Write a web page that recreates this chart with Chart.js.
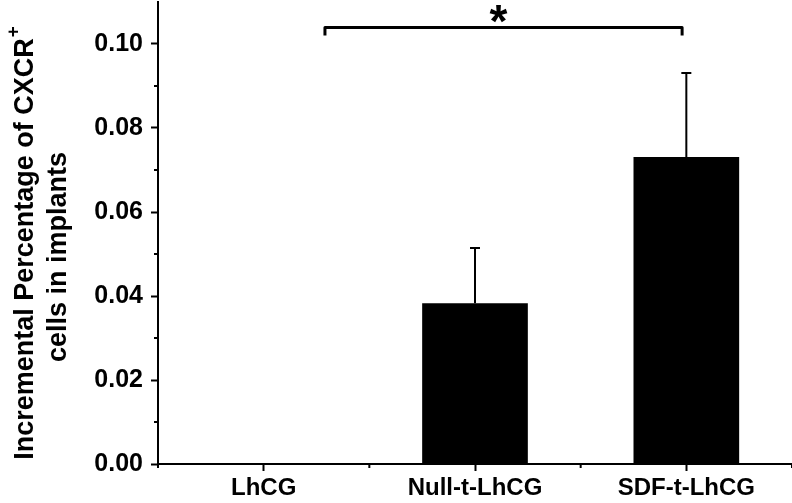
<!DOCTYPE html>
<html>
<head>
<meta charset="utf-8">
<script src="https://cdn.jsdelivr.net/npm/chart.js@4"></script>
<style>
  body { margin: 0; background: #fff; }
  #wrap { width: 792px; height: 503px; }
</style>
</head>
<body>
<div id="wrap"><canvas id="myChart" width="792" height="503"></canvas></div>
<script>
// data
const groups = ['LhCG', 'Null-t-LhCG', 'SDF-t-LhCG'];
const meanValues = [0, 0.0383, 0.0731];
const errorValues = [0, 0.0131, 0.0200];
const yTicks = [0, 0.02, 0.04, 0.06, 0.08, 0.10];
// significance bracket: from / to (category index), height (y value)
const bracketFrom = 0.29;
const bracketTo = 1.98;
const bracketY = 0.1039;
const bracketLabel = '*';
const yTitleLine1 = 'Incremental Percentage of CXCR';
const yTitleSup = '+';
const yTitleLine2 = 'cells in implants';

const fontFamily = "'Liberation Sans', Arial, sans-serif";

// error bars (upper only), minor ticks, bracket and the y title
const extrasPlugin = {
    id: 'extras',
    afterDatasetsDraw(chart) {
        const ctx = chart.ctx;
        const x = chart.scales.x;
        const y = chart.scales.y;
        ctx.save();
        ctx.strokeStyle = '#000';
        ctx.fillStyle = '#000';

        // error bars
        ctx.lineWidth = 2;
        meanValues.forEach((m, i) => {
            if (!errorValues[i]) return;
            const px = x.getPixelForValue(i);
            const top = y.getPixelForValue(m + errorValues[i]);
            ctx.beginPath();
            ctx.moveTo(px, y.getPixelForValue(m));
            ctx.lineTo(px, top);
            ctx.moveTo(px - 5, top);
            ctx.lineTo(px + 5, top);
            ctx.stroke();
        });

        // minor ticks on y axis
        for (let v = 0.01; v < 0.11; v += 0.02) {
            const py = Math.round(y.getPixelForValue(v));
            ctx.beginPath();
            ctx.moveTo(x.left - 4, py);
            ctx.lineTo(x.left, py);
            ctx.stroke();
        }
        // minor ticks on x axis (between categories)
        for (let i = 0; i <= groups.length; i++) {
            const px = x.getPixelForValue(i - 0.5);
            ctx.beginPath();
            ctx.moveTo(px, y.bottom);
            ctx.lineTo(px, y.bottom + 4);
            ctx.stroke();
        }

        // significance bracket
        const bx1 = x.getPixelForValue(bracketFrom);
        const bx2 = x.getPixelForValue(bracketTo);
        const by = y.getPixelForValue(bracketY);
        ctx.lineWidth = 3;
        ctx.lineJoin = 'round';
        ctx.beginPath();
        ctx.moveTo(bx1, by + 8);
        ctx.lineTo(bx1, by);
        ctx.lineTo(bx2, by);
        ctx.lineTo(bx2, by + 8);
        ctx.stroke();

        ctx.font = 'bold 46px ' + fontFamily;
        ctx.textAlign = 'center';
        ctx.textBaseline = 'middle';
        ctx.fillText(bracketLabel, (bx1 + bx2) / 2 - 5, by - 3);

        // y axis title, rotated, with superscript
        const midY = (y.top + y.bottom) / 2 + 16;
        ctx.translate(0, midY);
        ctx.rotate(-Math.PI / 2);
        ctx.textBaseline = 'middle';
        ctx.font = 'bold 27px ' + fontFamily;
        const w1 = ctx.measureText(yTitleLine1).width;
        ctx.textAlign = 'left';
        ctx.fillText(yTitleLine1, -w1 / 2, 26);
        ctx.font = 'bold 19px ' + fontFamily;
        ctx.fillText(yTitleSup, w1 / 2 + 1, 14);
        ctx.font = 'bold 27px ' + fontFamily;
        ctx.textAlign = 'center';
        ctx.fillText(yTitleLine2, -8, 59);
        ctx.restore();
    }
};

const ctx = document.getElementById('myChart').getContext('2d');
new Chart(ctx, {
    type: 'bar',
    data: {
        labels: groups,
        datasets: [{
            data: meanValues,
            backgroundColor: '#000',
            borderWidth: 0,
            barPercentage: 0.5,
            categoryPercentage: 1.0
        }]
    },
    options: {
        responsive: false,
        animation: false,
        layout: { padding: { top: 2, right: 0, left: 0, bottom: 0 } },
        plugins: {
            legend: { display: false },
            tooltip: { enabled: false }
        },
        scales: {
            x: {
                grid: {
                    display: true,
                    drawOnChartArea: false,
                    offset: false,
                    tickLength: 7,
                    tickWidth: 2,
                    tickColor: '#000'
                },
                border: { display: true, color: '#000', width: 2 },
                ticks: {
                    color: '#000',
                    padding: 3,
                    maxRotation: 0,
                    font: { family: fontFamily, size: 24, weight: 'bold' }
                },
                afterFit(scale) {
                    scale.height = 39;
                    scale.paddingLeft = 0;
                    scale.paddingRight = 0;
                }
            },
            y: {
                min: 0,
                max: 0.11,
                afterBuildTicks(scale) {
                    scale.ticks = yTicks.map(v => ({ value: v }));
                },
                grid: {
                    display: true,
                    drawOnChartArea: false,
                    tickLength: 7,
                    tickWidth: 2,
                    tickColor: '#000'
                },
                border: { display: true, color: '#000', width: 2 },
                ticks: {
                    color: '#000',
                    padding: 8,
                    font: { family: fontFamily, size: 25, weight: 'bold' },
                    callback: v => v.toFixed(2)
                },
                afterFit(scale) {
                    scale.width = 158;
                    scale.paddingTop = 0;
                    scale.paddingBottom = 0;
                }
            }
        }
    },
    plugins: [extrasPlugin]
});
</script>
</body>
</html>
